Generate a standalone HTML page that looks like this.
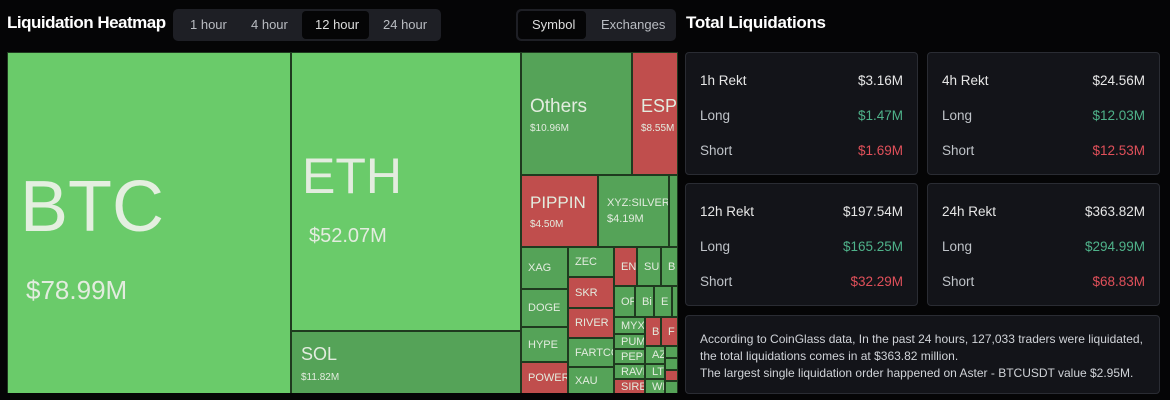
<!DOCTYPE html><html><head><style>
body{margin:0;width:1170px;height:400px;background:#050506;font-family:"Liberation Sans",sans-serif;position:relative;overflow:hidden;color:#e6e6e6}
.a{position:absolute;box-sizing:border-box}
.t{border:1px solid #1f3a1f;overflow:hidden;color:#e3ecdf;white-space:nowrap}
.g{background:#55a358}.l{background:#6acb6a}.r{background:#c04e4d}
.s{font-size:11px;padding:0 0 0 6px;display:flex;align-items:center}
.card{background:#131419;border:1px solid #2a2c33;border-radius:4px}
.row{position:absolute;left:14px;right:14px;font-size:13.5px;display:flex;justify-content:space-between}
.gn{color:#4fb28a}.rd{color:#e0505a}.lb{color:#bfc3c8}
</style></head><body>
<div class="a" style="left:7px;top:13px;font-size:17px;font-weight:bold;letter-spacing:-0.5px;color:#fff">Liquidation Heatmap</div>
<div class="a" style="left:173px;top:9px;width:268px;height:32px;background:#1e1f25;border-radius:5px;font-size:13px;color:#b9bcc2">
<span class="a" style="left:17px;top:8px">1 hour</span><span class="a" style="left:78px;top:8px">4 hour</span>
<div class="a" style="left:129px;top:2px;width:67px;height:28px;background:#050506;border-radius:4px"></div>
<span class="a" style="left:142px;top:8px;color:#ddd">12 hour</span><span class="a" style="left:210px;top:8px">24 hour</span></div>
<div class="a" style="left:516px;top:9px;width:160px;height:32px;background:#1e1f25;border-radius:5px;font-size:13px;color:#b9bcc2">
<div class="a" style="left:2px;top:2px;width:68px;height:28px;background:#050506;border-radius:4px"></div>
<span class="a" style="left:16px;top:8px;color:#ddd">Symbol</span><span class="a" style="left:85px;top:8px">Exchanges</span></div>

<div class="a t l" style="left:7px;top:52px;width:284px;height:342px"><div class="a" style="left:12px;top:113px;font-size:72px;color:#e4efe0">BTC</div><div class="a" style="left:18px;top:222px;font-size:26px">$78.99M</div></div>
<div class="a t l" style="left:291px;top:52px;width:230px;height:279px"><div class="a" style="left:10px;top:94px;font-size:50px">ETH</div><div class="a" style="left:17px;top:172px;font-size:20px">$52.07M</div></div>
<div class="a t g" style="left:291px;top:331px;width:230px;height:63px"><div class="a" style="left:9px;top:12px;font-size:18px">SOL</div><div class="a" style="left:9px;top:40px;font-size:10px">$11.82M</div></div>
<div class="a t g" style="left:521px;top:52px;width:111px;height:123px"><div class="a" style="left:8px;top:43px;font-size:19px">Others</div><div class="a" style="left:8px;top:70px;font-size:10px">$10.96M</div></div>
<div class="a t r" style="left:632px;top:52px;width:46px;height:123px"><div class="a" style="left:8px;top:43px;font-size:18px">ESP</div><div class="a" style="left:8px;top:70px;font-size:10px">$8.55M</div></div>
<div class="a t r" style="left:521px;top:175px;width:77px;height:72px"><div class="a" style="left:8px;top:17px;font-size:17px">PIPPIN</div><div class="a" style="left:8px;top:43px;font-size:10px">$4.50M</div></div>
<div class="a t g" style="left:598px;top:175px;width:71px;height:72px"><div class="a" style="left:8px;top:21px;font-size:11px">XYZ:SILVER</div><div class="a" style="left:8px;top:37px;font-size:11px">$4.19M</div></div>
<div class="a t g" style="left:669px;top:175px;width:9px;height:72px"></div>

<div class="a t g s" style="left:521px;top:247px;width:47px;height:42px">XAG</div>
<div class="a t g s" style="left:521px;top:289px;width:47px;height:38px">DOGE</div>
<div class="a t g s" style="left:521px;top:327px;width:47px;height:35px">HYPE</div>
<div class="a t r s" style="left:521px;top:362px;width:47px;height:32px">POWER</div>
<div class="a t g s" style="left:568px;top:247px;width:46px;height:30px">ZEC</div>
<div class="a t r s" style="left:568px;top:277px;width:46px;height:31px">SKR</div>
<div class="a t r s" style="left:568px;top:308px;width:46px;height:30px">RIVER</div>
<div class="a t g s" style="left:568px;top:338px;width:46px;height:29px">FARTCO</div>
<div class="a t g s" style="left:568px;top:367px;width:46px;height:27px">XAU</div>
<div class="a t r s" style="left:614px;top:247px;width:23px;height:39px">EN</div>
<div class="a t g s" style="left:637px;top:247px;width:24px;height:39px">SU</div>
<div class="a t g s" style="left:661px;top:247px;width:17px;height:39px">B</div>
<div class="a t g s" style="left:614px;top:286px;width:21px;height:31px">OF</div>
<div class="a t g s" style="left:635px;top:286px;width:19px;height:31px">Bi</div>
<div class="a t g s" style="left:654px;top:286px;width:18px;height:31px">E</div>
<div class="a t g" style="left:672px;top:286px;width:6px;height:31px"></div>
<div class="a t g s" style="left:614px;top:317px;width:31px;height:17px">MYX</div>
<div class="a t g s" style="left:614px;top:334px;width:31px;height:15px">PUM</div>
<div class="a t g s" style="left:614px;top:349px;width:31px;height:15px">PEPE</div>
<div class="a t g s" style="left:614px;top:364px;width:31px;height:15px">RAVE</div>
<div class="a t r s" style="left:614px;top:379px;width:31px;height:15px">SIRE</div>
<div class="a t r s" style="left:645px;top:317px;width:16px;height:29px">B</div>
<div class="a t r s" style="left:661px;top:317px;width:17px;height:29px">F</div>
<div class="a t g s" style="left:645px;top:346px;width:20px;height:18px">AZ</div>
<div class="a t g s" style="left:645px;top:364px;width:20px;height:15px">LT</div>
<div class="a t g s" style="left:645px;top:379px;width:20px;height:15px">WI</div>
<div class="a t g" style="left:665px;top:346px;width:13px;height:12px"></div>
<div class="a t g" style="left:665px;top:358px;width:13px;height:12px"></div>
<div class="a t r" style="left:665px;top:370px;width:13px;height:11px"></div>
<div class="a t g" style="left:665px;top:381px;width:13px;height:13px"></div>
<div class="a" style="left:7px;top:393px;width:671px;height:7px;background:#050506"></div>

<div class="a" style="left:686px;top:13px;font-size:17px;font-weight:bold;letter-spacing:-0.3px;color:#fff">Total Liquidations</div>
<div class="a card" style="left:685px;top:52px;width:233px;height:123px">
<div class="row" style="top:20px"><span>1h Rekt</span><span>$3.16M</span></div>
<div class="row lb" style="top:55px"><span>Long</span><span class="gn">$1.47M</span></div>
<div class="row lb" style="top:90px"><span>Short</span><span class="rd">$1.69M</span></div></div>
<div class="a card" style="left:927px;top:52px;width:233px;height:123px">
<div class="row" style="top:20px"><span>4h Rekt</span><span>$24.56M</span></div>
<div class="row lb" style="top:55px"><span>Long</span><span class="gn">$12.03M</span></div>
<div class="row lb" style="top:90px"><span>Short</span><span class="rd">$12.53M</span></div></div>
<div class="a card" style="left:685px;top:183px;width:233px;height:123px">
<div class="row" style="top:20px"><span>12h Rekt</span><span>$197.54M</span></div>
<div class="row lb" style="top:55px"><span>Long</span><span class="gn">$165.25M</span></div>
<div class="row lb" style="top:90px"><span>Short</span><span class="rd">$32.29M</span></div></div>
<div class="a card" style="left:927px;top:183px;width:233px;height:123px">
<div class="row" style="top:20px"><span>24h Rekt</span><span>$363.82M</span></div>
<div class="row lb" style="top:55px"><span>Long</span><span class="gn">$294.99M</span></div>
<div class="row lb" style="top:90px"><span>Short</span><span class="rd">$68.83M</span></div></div>
<div class="a card" style="left:685px;top:315px;width:475px;height:79px;padding:15px 14px;font-size:12px;line-height:17px;color:#d0d3d8">According to CoinGlass data, In the past 24 hours, 127,033 traders were liquidated, the total liquidations comes in at $363.82 million.<br>The largest single liquidation order happened on Aster - BTCUSDT value $2.95M.</div>
</body></html>
